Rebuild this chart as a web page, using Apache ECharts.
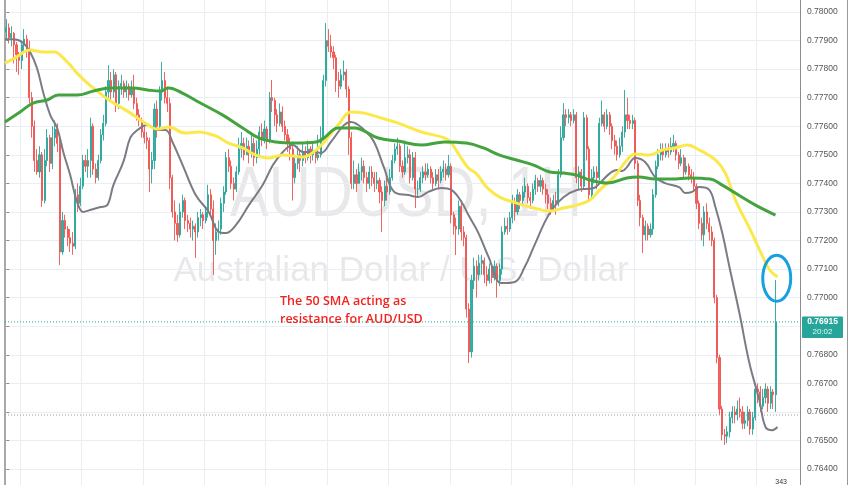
<!DOCTYPE html>
<html><head><meta charset="utf-8">
<script src="https://cdn.jsdelivr.net/npm/echarts/dist/echarts.min.js"></script>
<style>html,body{margin:0;padding:0;background:#fff}#c{width:852px;height:485px}</style>
</head><body><div id="c"></div>
<script>
// prices in units of 0.00001
const firstOpen = 77930;
const closes = [77945,77910,77925,77885,77850,77830,77885,77905,77865,77700,
77600,77480,77440,77500,77340,77480,77560,77470,77560,77590,
77540,77160,77270,77240,77210,77190,77180,77360,77330,77390,
77480,77460,77480,77600,77450,77420,77480,77570,77610,77720,
77760,77720,77780,77680,77740,77750,77720,77740,77710,77730,
77680,77640,77620,77580,77560,77550,77450,77480,77660,77600,
77720,77760,77700,77680,77420,77300,77260,77220,77300,77340,
77270,77260,77240,77250,77230,77280,77290,77270,77300,77360,
77310,77200,77230,77240,77330,77370,77490,77460,77400,77380,
77440,77520,77540,77500,77530,77510,77540,77490,77520,77580,
77560,77590,77550,77700,77690,77640,77610,77650,77600,77570,
77540,77520,77420,77470,77500,77480,77510,77490,77520,77500,
77510,77490,77500,77560,77760,77900,77880,77860,77840,77760,
77740,77780,77790,77730,77560,77400,77430,77400,77440,77460,
77420,77400,77440,77420,77400,77410,77370,77340,77390,77370,
77420,77480,77520,77530,77460,77440,77490,77500,77420,77490,
77380,77380,77420,77440,77430,77450,77420,77400,77430,77410,
77440,77450,77430,77460,77290,77250,77240,77320,77230,77210,
76960,76810,77060,77110,77080,77120,77130,77080,77060,77100,
77070,77110,77060,77100,77230,77250,77240,77280,77330,77300,
77360,77340,77370,77390,77350,77340,77380,77410,77390,77410,
77380,77360,77330,77310,77340,77330,77430,77560,77640,77630,
77640,77620,77640,77420,77440,77390,77630,77520,77360,77420,
77440,77420,77610,77640,77600,77640,77600,77550,77530,77500,
77530,77580,77640,77620,77610,77620,77470,77340,77280,77220,
77250,77220,77240,77360,77460,77500,77520,77500,77520,77510,
77530,77540,77500,77470,77490,77440,77460,77430,77420,77390,
77330,77260,77220,77300,77260,77230,77200,77000,76790,76610,
76520,76515,76530,76580,76600,76590,76610,76600,76560,76570,
76600,76540,76580,76680,76670,76620,76650,76680,76630,76670,
76660,76915];
const highs = [77975,77960,77950,77930,77895,77860,77900,77940,77920,77900,
77720,77620,77520,77530,77510,77520,77590,77570,77600,77620,
77610,77560,77300,77290,77250,77240,77230,77380,77400,77420,
77500,77500,77520,77630,77610,77470,77500,77590,77640,77740,
77814,77790,77800,77790,77760,77780,77760,77760,77750,77760,
77780,77700,77660,77630,77600,77580,77560,77510,77680,77690,
77740,77825,77790,77740,77700,77430,77340,77290,77330,77360,
77350,77290,77280,77270,77260,77300,77310,77300,77320,77395,
77380,77340,77260,77270,77350,77390,77510,77520,77480,77420,
77460,77560,77580,77560,77560,77550,77580,77560,77550,77600,
77610,77620,77600,77720,77762,77700,77660,77680,77670,77620,
77590,77560,77530,77500,77530,77520,77540,77530,77550,77530,
77540,77520,77570,77600,77780,77961,77940,77920,77880,77850,
77790,77800,77830,77800,77740,77580,77480,77450,77470,77490,
77480,77440,77460,77460,77440,77440,77420,77390,77410,77420,
77450,77500,77540,77560,77540,77480,77550,77530,77520,77510,
77510,77410,77440,77460,77470,77470,77460,77440,77450,77450,
77460,77480,77470,77500,77470,77300,77280,77340,77340,77250,
77220,76980,77080,77140,77130,77150,77150,77140,77110,77120,
77110,77130,77120,77120,77250,77280,77280,77300,77360,77350,
77380,77370,77390,77420,77400,77370,77400,77430,77420,77430,
77420,77400,77380,77350,77360,77370,77450,77600,77681,77660,
77660,77650,77660,77650,77460,77450,77650,77640,77530,77450,
77460,77460,77630,77690,77650,77660,77650,77610,77570,77550,
77560,77600,77727,77700,77640,77640,77630,77480,77360,77290,
77270,77260,77260,77380,77480,77520,77540,77540,77540,77540,
77560,77570,77550,77510,77520,77500,77490,77470,77450,77440,
77400,77340,77280,77320,77330,77280,77250,77210,77010,76800,
76620,76540,76550,76600,76620,76620,76640,76650,76620,76600,
76620,76610,76600,76700,76700,76690,76680,76700,76690,76690,
76680,77062];
const lows = [77900,77890,77880,77820,77790,77780,77800,77860,77840,77680,
77560,77440,77430,77420,77318,77330,77460,77440,77450,77530,
77510,77114,77150,77210,77180,77160,77150,77170,77300,77320,
77380,77440,77420,77420,77430,77400,77410,77470,77550,77600,
77700,77690,77700,77650,77660,77710,77700,77700,77690,77700,
77660,77620,77600,77560,77540,77520,77370,77400,77450,77560,
77590,77690,77680,77650,77380,77280,77200,77195,77210,77280,
77240,77230,77210,77200,77139,77210,77250,77240,77260,77280,
77290,77080,77150,77200,77220,77300,77360,77440,77380,77340,
77370,77430,77490,77480,77500,77470,77490,77460,77470,77500,
77530,77540,77520,77540,77650,77600,77580,77600,77580,77550,
77510,77480,77340,77400,77450,77440,77460,77470,77480,77470,
77480,77470,77480,77490,77550,77740,77860,77840,77800,77720,
77700,77730,77760,77700,77500,77380,77380,77370,77400,77410,
77400,77370,77380,77390,77370,77380,77330,77230,77320,77340,
77360,77410,77470,77500,77440,77420,77430,77470,77400,77410,
77314,77350,77370,77400,77410,77420,77400,77380,77390,77380,
77400,77420,77410,77420,77260,77220,77149,77220,77200,77180,
76930,76771,76790,77030,77000,77060,77080,77050,77040,77050,
77050,77060,77000,77040,77080,77220,77220,77230,77260,77270,
77290,77310,77320,77350,77330,77310,77330,77360,77370,77370,
77360,77330,77310,77290,77300,77290,77320,77420,77550,77600,
77610,77600,77610,77400,77380,77370,77380,77480,77340,77350,
77400,77380,77410,77600,77580,77590,77570,77520,77500,77480,
77490,77510,77560,77590,77590,77590,77450,77320,77250,77156,
77200,77200,77210,77220,77350,77450,77480,77480,77490,77490,
77500,77510,77480,77450,77460,77420,77430,77410,77400,77370,
77310,77240,77200,77180,77240,77200,77180,76980,76770,76590,
76500,76484,76490,76510,76560,76560,76570,76580,76540,76540,
76550,76520,76520,76570,76630,76600,76610,76630,76600,76610,
76610,76600];
// moving averages: [bar index, value]
const sma50 = [[-0.5,77821],[3.4,77839],[9.3,77867],[14.4,77860],[19.1,77860],[21.1,77849],[25,77814],[27.7,77786],[30.9,77758],[34,77734],[40.7,77688],[47.4,77653],[53.7,77615],[59.2,77590],[63.5,77597],[70.1,77576],[75.2,77580],[81.9,77566],[87,77541],[92.5,77524],[97.6,77499],[102.7,77489],[108.2,77499],[112.1,77496],[116.1,77492],[121.2,77517],[124.3,77545],[129.8,77604],[134.9,77650],[140,77646],[145.5,77632],[153.3,77611],[162.4,77580],[171.4,77559],[174.1,77541],[176.9,77503],[180.8,77454],[184,77433],[187.9,77387],[193,77352],[199.6,77331],[206.3,77314],[212.6,77303],[218.1,77314],[223.2,77324],[228.3,77342],[232.2,77377],[237.7,77422],[242.8,77482],[246,77503],[251.5,77499],[256.6,77517],[261.7,77524],[266.4,77534],[271.1,77517],[277.4,77482],[281.3,77436],[285.2,77342],[290.7,77244],[295.8,77146],[298.6,77097],[301.7,77072]];
const sma100 = [[-0.5,77615],[5.4,77650],[10.5,77681],[16,77692],[20.3,77709],[27.7,77709],[34,77723],[40.7,77734],[49.7,77734],[55.2,77727],[60.3,77723],[63.5,77734],[68.9,77716],[75.2,77685],[84.7,77639],[92.5,77594],[98.8,77559],[105.5,77545],[113.3,77541],[121.2,77545],[124.3,77559],[129.8,77594],[136.1,77594],[145.5,77559],[153.3,77548],[162.4,77534],[171.4,77545],[180,77541],[186.7,77524],[193,77499],[199.6,77482],[206.3,77464],[212.6,77440],[218.1,77436],[223.2,77429],[228.3,77412],[235,77401],[242.8,77419],[247.5,77422],[253.8,77415],[260.5,77415],[267.2,77419],[275.4,77415],[280.1,77394],[285.2,77366],[293.1,77324],[300.9,77289]];
const sma20 = [[-0.5,77905],[2.6,77905],[6.2,77895],[9.3,77860],[12,77804],[14.4,77720],[17.2,77639],[19.9,77594],[22.3,77510],[25,77429],[27.7,77335],[30.1,77300],[32.8,77307],[36.8,77317],[39.5,77324],[41.9,77394],[45.8,77475],[48.5,77559],[51.3,77587],[55.2,77604],[59.2,77587],[62.3,77587],[65,77545],[69,77464],[74.1,77359],[79.2,77300],[83.1,77230],[85.8,77226],[89.8,77254],[94.9,77324],[100.3,77394],[104.3,77464],[108.2,77510],[112.1,77534],[116.1,77510],[121.2,77510],[123.1,77506],[127,77545],[132.1,77604],[134.9,77615],[140,77587],[143.9,77545],[147.8,77454],[151.8,77370],[157.3,77359],[161.2,77352],[165.1,77370],[170.2,77384],[174.1,77377],[178.1,77335],[180.8,77289],[184.7,77226],[188.7,77142],[193.8,77051],[198.9,77055],[202.8,77107],[206.3,77177],[212.6,77296],[218.1,77352],[223.2,77377],[229.9,77384],[232.2,77401],[236.2,77436],[238.9,77447],[240.9,77443],[242.8,77457],[246,77489],[249.9,77475],[253.8,77422],[257.7,77401],[263.2,77387],[265.6,77366],[268.3,77370],[271.1,77387],[275,77377],[277.4,77317],[280.1,77226],[282.9,77107],[286.8,76946],[290.7,76771],[294.6,76641],[297,76547],[299.7,76536],[301.7,76547]];
const yMin = 0.764, yMax = 0.780, yStep = 0.001;
const lastPrice = 0.76915;
const lastTime = '20:02';
const prevLevel = 0.76589;
const noteText = ['The 50 SMA acting as', 'resistance for AUD/USD'];
const ringAt = [301.4, 0.77068];
const symbolTitle = 'AUDUSD, 1H';
const symbolDesc = 'Australian Dollar / U.S. Dollar';
const totalSlots = 311;

const S = 100000;
const cats = [];
for (let i = 0; i < totalSlots; i++) cats.push(String(i));
const candles = closes.map((c, i) => {
  const o = i ? closes[i - 1] : firstOpen;
  return [o / S, c / S, Math.min(lows[i], o, c) / S, Math.max(highs[i], o, c) / S];
});
const toLine = arr => arr.map(p => [p[0], p[1] / S]);
const levelLine = v => [[-0.5, v], [totalSlots - 0.5, v]];
const gridColor = '#e8eef4';
const axisGray = '#8c8c8c';
const chart = echarts.init(document.getElementById('c'), null, {renderer: 'canvas'});
const option = {
  animation: false,
  backgroundColor: '#ffffff',
  grid: [
    {left: 5, right: 52, top: 12, bottom: 16, containLabel: false},
    {left: 5, right: 52, top: 0, bottom: 0, containLabel: false}
  ],
  xAxis: [
    {type: 'category', gridIndex: 0, data: cats, boundaryGap: true, axisLine: {show: false}, axisTick: {show: false},
     axisLabel: {show: false}, splitLine: {show: false}},
    {type: 'value', gridIndex: 0, min: -0.5, max: totalSlots - 0.5, show: false},
    {type: 'category', gridIndex: 1, data: cats, boundaryGap: true, axisLine: {show: false}, axisTick: {show: false},
     axisLabel: {show: false}, splitLine: {show: true, interval: (idx) => idx % 24 === 6, lineStyle: {color: gridColor, width: 1}}}
  ],
  yAxis: [
    {type: 'value', gridIndex: 0, position: 'right', min: yMin, max: yMax, interval: yStep,
     axisLine: {show: false},
     axisTick: {show: true, length: 3, lineStyle: {color: axisGray}},
     axisLabel: {color: '#555', fontSize: 8.5, fontFamily: 'Liberation Sans, Arial', margin: 7,
                 formatter: v => v.toFixed(5)},
     splitLine: {show: true, lineStyle: {color: gridColor, width: 1}}},
    {type: 'value', gridIndex: 1, position: 'left', min: 0, max: 1,
     axisLine: {show: true, lineStyle: {color: axisGray, width: 1.5}},
     axisTick: {show: false}, axisLabel: {show: false}, splitLine: {show: false}}
  ],
  series: [
    {type: 'line', xAxisIndex: 1, yAxisIndex: 0, data: levelLine(prevLevel), showSymbol: false, silent: true,
     lineStyle: {color: '#9a9a9a', type: [1, 2], width: 1}, z: 1},
    {type: 'line', xAxisIndex: 1, yAxisIndex: 0, data: levelLine(lastPrice), showSymbol: false, silent: true,
     lineStyle: {color: '#26a69a', type: [1, 2], width: 1}, z: 1},
    {type: 'candlestick', xAxisIndex: 0, yAxisIndex: 0, data: candles, barWidth: 1.6,
     itemStyle: {color: '#26a69a', color0: '#ef5350', borderColor: '#26a69a', borderColor0: '#ef5350', borderWidth: 1, opacity: 0.9}},
    {type: 'line', xAxisIndex: 1, yAxisIndex: 0, data: toLine(sma20), showSymbol: false, smooth: 0.4,
     lineStyle: {color: '#7b7b84', width: 2}, z: 3},
    {type: 'line', xAxisIndex: 1, yAxisIndex: 0, data: toLine(sma50), showSymbol: false, smooth: 0.4,
     lineStyle: {color: '#fbe84c', width: 3}, z: 4},
    {type: 'line', xAxisIndex: 1, yAxisIndex: 0, data: toLine(sma100), showSymbol: false, smooth: 0.4,
     lineStyle: {color: '#43a33f', width: 3}, z: 5}
  ]
};
chart.setOption(option);

const px = (bar, price) => chart.convertToPixel({xAxisIndex: 1, yAxisIndex: 0}, [bar, price]);
const ring = px(ringAt[0], ringAt[1]);
const lp = px(0, lastPrice);
const wm = 'rgba(110,112,122,0.16)';
chart.setOption({
  graphic: [
    {type: 'text', x: 406, y: 197, scaleX: 0.83, z: -1, silent: true,
     style: {text: symbolTitle, fill: wm, font: '70px Liberation Sans, Arial', textAlign: 'center', textVerticalAlign: 'middle'}},
    {type: 'text', x: 401, y: 271, z: -1, silent: true,
     style: {text: symbolDesc, fill: wm, font: '35px Liberation Sans, Arial', textAlign: 'center', textVerticalAlign: 'middle'}},
    {type: 'text', x: 280, y: 292, z: 100, silent: true,
     style: {text: noteText.join('\n'), fill: '#f2231f', font: '600 12.5px Open Sans, Liberation Sans, Arial', lineHeight: 18, textVerticalAlign: 'top'}},
    {type: 'ellipse', z: 100, silent: true, shape: {cx: ring[0], cy: ring[1], rx: 14, ry: 23},
     style: {fill: 'none', stroke: '#179fe0', lineWidth: 3}},
    {type: 'line', z: 100, silent: true, shape: {x1: 800.5, y1: 0, x2: 800.5, y2: 485}, style: {stroke: axisGray, lineWidth: 1}},
    {type: 'rect', z: 100, silent: true, shape: {x: 802, y: lp[1] - 5.5, width: 41, height: 21.5, r: 1},
     style: {fill: '#26a69a'}},
    {type: 'text', z: 101, silent: true, x: 822.5, y: lp[1],
     style: {text: lastPrice.toFixed(5), fill: '#fff', font: 'bold 8.5px Liberation Sans, Arial', textAlign: 'center', textVerticalAlign: 'middle'}},
    {type: 'text', z: 101, silent: true, x: 822.5, y: lp[1] + 10,
     style: {text: lastTime, fill: '#e8f6f4', font: '8px Liberation Sans, Arial', textAlign: 'center', textVerticalAlign: 'middle'}},
    {type: 'line', z: 100, silent: true, shape: {x1: 847.5, y1: 0, x2: 847.5, y2: 485}, style: {stroke: '#9a9a9a', lineWidth: 1}},
    {type: 'text', z: 100, silent: true, x: 787, y: 482,
     style: {text: '343', fill: '#333', font: '7px Liberation Sans, Arial', textAlign: 'right', textVerticalAlign: 'middle'}}
  ]
});
</script></body></html>
